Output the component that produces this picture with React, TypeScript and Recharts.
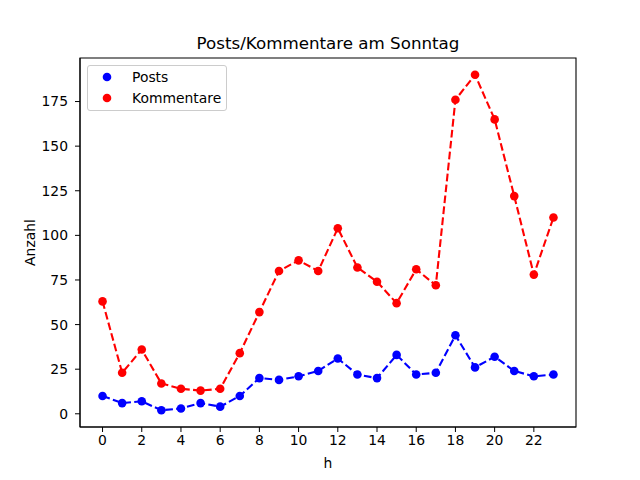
import React from "react"
import { LineChart, Line, XAxis, YAxis, ReferenceArea } from "recharts"

const hours = [0, 1, 2, 3, 4, 5, 6, 7, 8, 9, 10, 11, 12, 13, 14, 15, 16, 17, 18, 19, 20, 21, 22, 23]
const posts = [10, 6, 7, 2, 3, 6, 4, 10, 20, 19, 21, 24, 31, 22, 20, 33, 22, 23, 44, 26, 32, 24, 21, 22]
const kommentare = [63, 23, 36, 17, 14, 13, 14, 34, 57, 80, 86, 80, 104, 82, 74, 62, 81, 72, 176, 190, 165, 122, 78, 110]
const xTicks = [0, 2, 4, 6, 8, 10, 12, 14, 16, 18, 20, 22]
const yTicks = [0, 25, 50, 75, 100, 125, 150, 175]
const seriesNames = ["Posts", "Kommentare"]
const seriesColors = ["#0000ff", "#ff0000"]

const data = hours.map((h, i) => ({ h, posts: posts[i], kommentare: kommentare[i] }))

const FONT = "DejaVu Sans, sans-serif"
const X_DOMAIN: [number, number] = [-1.15, 24.15]
const Y_DOMAIN: [number, number] = [-7.4, 199.4]

function LegendBox() {
  return (
    <div
      style={{
        position: "absolute",
        left: 87,
        top: 65,
        width: 140,
        height: 46,
        border: "1px solid #cccccc",
        borderRadius: 3,
        background: "rgba(255,255,255,0.8)",
        boxSizing: "border-box",
        zIndex: 2,
      }}
    >
      {seriesNames.map((name, i) => (
        <div key={name} style={{ display: "flex", alignItems: "center", height: 21.5, fontFamily: FONT, fontSize: 13.9, color: "#000" }}>
          <svg width={44} height={12} style={{ flex: "none" }}>
            <circle cx={19} cy={6} r={4.3} fill={seriesColors[i]} />
          </svg>
          <span>{name}</span>
        </div>
      ))}
    </div>
  )
}

// y-axis title, centred on the plot height like matplotlib does
function YTitle(props: any) {
  const vb = props.viewBox || { x: 0, y: 58, width: 80, height: 369 }
  const cx = vb.x + 30
  const cy = vb.y + vb.height / 2
  return (
    <text
      x={cx}
      y={cy}
      transform={`rotate(-90, ${cx}, ${cy})`}
      textAnchor="middle"
      dominantBaseline="central"
      fill="#000"
      fontSize={13.9}
      fontFamily={FONT}
    >
      Anzahl
    </text>
  )
}

export default function App() {
  return (
    <div style={{ position: "absolute", left: 0, top: 0, width: 640, height: 480, background: "#fff" }}>
      <div
        style={{
          position: "absolute",
          left: 80,
          width: 496,
          top: 33,
          textAlign: "center",
          fontFamily: FONT,
          fontSize: 16.7,
          color: "#000",
        }}
      >
        Posts/Kommentare am Sonntag
      </div>
      <LegendBox />
      <LineChart width={640} height={480} data={data} margin={{ top: 58, right: 64, bottom: 23, left: 0 }}>
        <XAxis
          dataKey="h"
          type="number"
          domain={X_DOMAIN}
          ticks={xTicks}
          allowDataOverflow
          height={30}
          tickSize={5}
          tickMargin={3}
          stroke="#000"
          tick={{ fill: "#000", fontSize: 13.9, fontFamily: FONT }}
          label={{ value: "h", position: "insideBottom", offset: -11, fill: "#000", fontSize: 13.9, fontFamily: FONT }}
        />
        <YAxis
          type="number"
          domain={Y_DOMAIN}
          ticks={yTicks}
          allowDataOverflow
          width={80}
          tickSize={5}
          tickMargin={7}
          stroke="#000"
          tick={{ fill: "#000", fontSize: 13.9, fontFamily: FONT }}
          label={{ content: YTitle }}
        />
        <ReferenceArea x1={X_DOMAIN[0]} x2={X_DOMAIN[1]} y1={Y_DOMAIN[0]} y2={Y_DOMAIN[1]} fill="none" stroke="#000" strokeWidth={1.1} fillOpacity={0} />
        <Line
          dataKey="posts"
          name={seriesNames[0]}
          stroke={seriesColors[0]}
          strokeWidth={2.1}
          strokeDasharray="7.7 3.3"
          dot={{ r: 4.3, fill: seriesColors[0], stroke: "none", strokeDasharray: "none" }}
          isAnimationActive={false}
        />
        <Line
          dataKey="kommentare"
          name={seriesNames[1]}
          stroke={seriesColors[1]}
          strokeWidth={2.1}
          strokeDasharray="7.7 3.3"
          dot={{ r: 4.3, fill: seriesColors[1], stroke: "none", strokeDasharray: "none" }}
          isAnimationActive={false}
        />
      </LineChart>
    </div>
  )
}
